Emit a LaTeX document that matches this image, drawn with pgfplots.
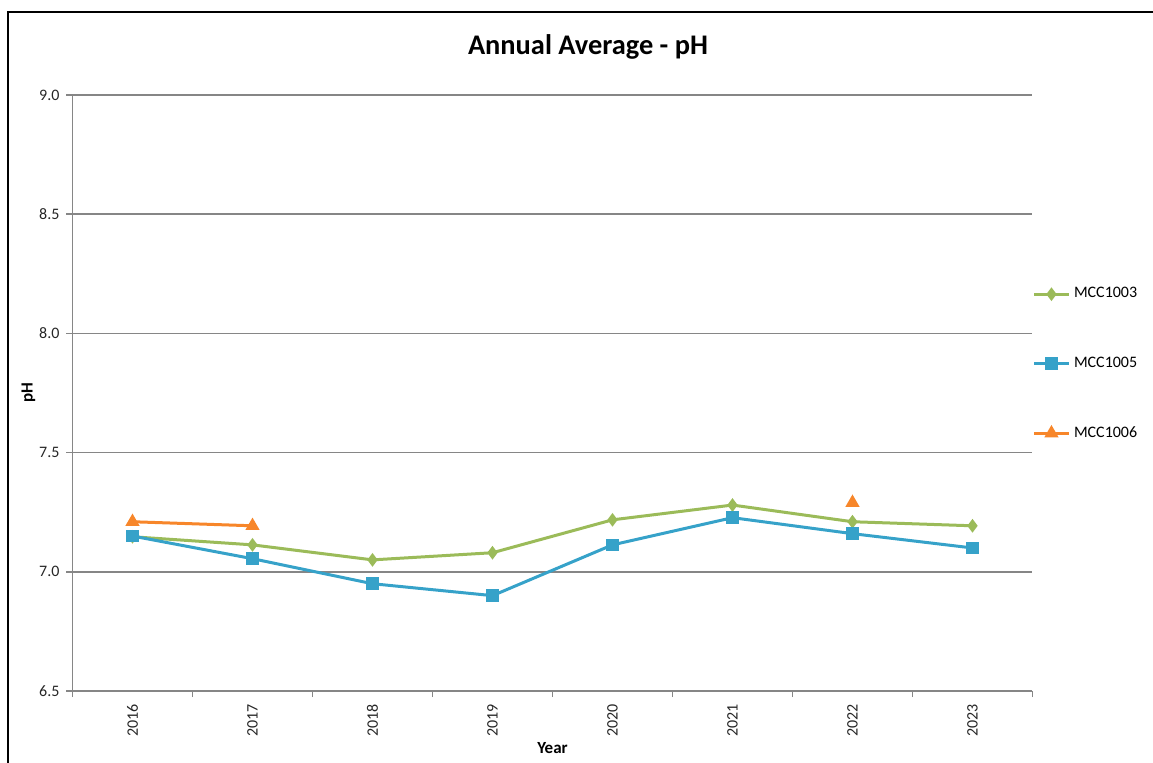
\documentclass[border=0pt]{standalone}
\usepackage{pgfplots}
\pgfplotsset{compat=1.18}
\usepackage{fontspec}
\setmainfont{Carlito}
\definecolor{cgreen}{HTML}{9BBB59}
\definecolor{cblue}{HTML}{36A2C9}
\definecolor{corange}{HTML}{F7862A}
\definecolor{gridgray}{HTML}{868686}
\begin{document}
\begin{tikzpicture}
\begin{axis}[
  scale only axis,
  width=480pt, height=298pt,
  xmin=-0.5, xmax=7.5,
  ymin=6.5, ymax=9.0,
  xtick={0,...,7},
  xticklabels={2016,2017,2018,2019,2020,2021,2022,2023},
  minor xtick={-0.5,0.5,...,7.5},
  ytick={6.5,7.0,...,9.0},
  yticklabel style={/pgf/number format/.cd, fixed, fixed zerofill, precision=1},
  /pgf/number format/assume math mode=true,
  axis lines*=left,
  axis line style={gridgray, line width=0.8pt},
  tick align=outside,
  major tick length=3pt,
  minor tick length=3pt,
  major x tick style={draw=none},
  minor x tick style={gridgray, line width=0.8pt},
  y tick style={gridgray, line width=0.8pt},
  ymajorgrids,
  grid style={gridgray, line width=0.8pt},
  tick label style={font=\fontsize{8}{9}\selectfont, black!85},
  xticklabel style={rotate=90, anchor=east},
  title={Annual Average - pH},
  title style={font=\fontsize{14.2}{16}\selectfont\bfseries, at={(0.537,1)}, anchor=center, yshift=18pt},
  xlabel={Year},
  xlabel style={font=\fontsize{8.5}{10}\selectfont\bfseries, at={(0.5,0)}, anchor=center, yshift=-28.5pt},
  ylabel={pH},
  ylabel style={font=\fontsize{8.5}{10}\selectfont\bfseries, at={(0,0.5)}, anchor=center, yshift=22pt},
  unbounded coords=jump,
  legend style={draw=none, fill=none, at={(1.0,0.549)}, anchor=west, inner xsep=0pt,
    font=\fontsize{8}{9}\selectfont, row sep=24pt},
  legend cell align=left,
  clip=false,
]
\addplot[cgreen, line width=1.5pt, mark=diamond*, mark size=2.2pt] coordinates {
  (0,7.147) (1,7.113) (2,7.050) (3,7.080) (4,7.218) (5,7.280) (6,7.210) (7,7.193)
};
\addlegendentry{MCC1003}
\addplot[cblue, line width=1.5pt, mark=square*, mark size=2.4pt] coordinates {
  (0,7.150) (1,7.055) (2,6.950) (3,6.900) (4,7.113) (5,7.227) (6,7.160) (7,7.100)
};
\addlegendentry{MCC1005}
\addplot[corange, line width=1.5pt, mark=triangle*, mark size=2.6pt] coordinates {
  (0,7.210) (1,7.193) (2,nan) (6,7.290)
};
\addlegendentry{MCC1006}
\end{axis}
\draw[black, line width=1.2pt] (-32.25pt,-40pt) -- (-32.25pt,339.5pt) -- (560pt,339.5pt);
\pgfresetboundingbox
\path[use as bounding box] (-36.25pt,-35.5pt) rectangle (540.25pt,345.5pt);
\end{tikzpicture}
\end{document}
